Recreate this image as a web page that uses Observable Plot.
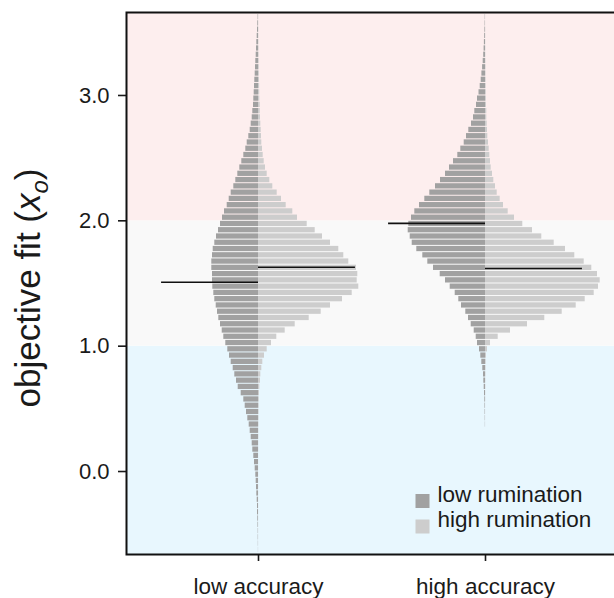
<!DOCTYPE html>
<html><head><meta charset="utf-8">
<script src="https://cdn.jsdelivr.net/npm/d3@7"></script>
<script src="https://cdn.jsdelivr.net/npm/@observablehq/plot@0.6"></script>
<style>
html,body{margin:0;padding:0;background:#fff;overflow:hidden;}
#chart{position:relative;width:614px;height:598px;overflow:hidden;}
#chart svg{max-width:none !important;}
</style></head><body><div id="chart"></div>
<script>
// ---------------- data ----------------
const categories = ["low accuracy", "high accuracy"];
const groups = ["low rumination", "high rumination"];
const yTicks = [0, 1, 2, 3];
const binWidth = 0.05;
const binLower = [
 -0.65,-0.60,-0.55,-0.50,-0.45,-0.40,-0.35,-0.30,-0.25,-0.20,
 -0.15,-0.10,-0.05, 0.00, 0.05, 0.10, 0.15, 0.20, 0.25, 0.30,
  0.35, 0.40, 0.45, 0.50, 0.55, 0.60, 0.65, 0.70, 0.75, 0.80,
  0.85, 0.90, 0.95, 1.00, 1.05, 1.10, 1.15, 1.20, 1.25, 1.30,
  1.35, 1.40, 1.45, 1.50, 1.55, 1.60, 1.65, 1.70, 1.75, 1.80,
  1.85, 1.90, 1.95, 2.00, 2.05, 2.10, 2.15, 2.20, 2.25, 2.30,
  2.35, 2.40, 2.45, 2.50, 2.55, 2.60, 2.65, 2.70, 2.75, 2.80,
  2.85, 2.90, 2.95, 3.00, 3.05, 3.10, 3.15, 3.20, 3.25, 3.30,
  3.35, 3.40, 3.45, 3.50, 3.55, 3.60
];
// bin frequencies (relative), aligned with binLower
const lowAccLowRum = [
  0.1, 0.2, 0.3, 0.3, 0.5, 0.7, 1.0, 1.0, 1.3, 1.7,
  2.0, 2.3, 2.7, 3.3, 4.0, 4.7, 5.7, 6.3, 7.3, 8.3,
  9.3,10.7,12.0,13.3,14.7,17.3,20.3,22.0,23.7,25.3,
 27.3,29.0,30.7,32.7,34.7,36.3,38.0,39.7,41.0,42.3,
 43.7,44.7,45.7,46.0,46.0,46.7,46.7,46.0,45.3,43.7,
 42.0,40.0,38.0,36.0,34.0,31.3,29.3,27.3,24.7,22.7,
 20.7,18.7,16.7,14.7,12.7,11.3, 9.7, 8.3, 7.3, 6.3,
  5.7, 5.0, 4.7, 4.3, 4.0, 3.7, 3.3, 3.0, 2.7, 2.3,
  2.0, 1.7, 1.3, 1.0, 0.7, 0.4
];
const lowAccHighRum = [
  0.1, 0.1, 0.1, 0.1, 0.1, 0.1, 0.1, 0.1, 0.1, 0.1,
  0.1, 0.1, 0.1, 0.1, 0.1, 0.1, 0.2, 0.2, 0.3, 0.3,
  0.4, 0.5, 0.6, 0.7, 0.8, 1.0, 1.3, 2.0, 2.3, 3.3,
  4.3, 6.0, 8.7,13.0,18.3,26.7,36.7,50.7,62.7,72.0,
 84.0,93.7,100.3,98.7,99.3,98.0,90.3,85.3,80.3,72.0,
 64.0,56.7,48.7,39.0,34.3,27.7,23.0,18.7,14.3,11.3,
  8.7, 7.0, 5.7, 4.7, 4.0, 3.3, 3.0, 2.7, 2.3, 2.0,
  1.7, 1.7, 1.3, 1.2, 1.1, 1.0, 0.9, 0.8, 0.7, 0.6,
  0.5, 0.4, 0.3, 0.3, 0.2, 0.2
];
const highAccLowRum = [
  0, 0, 0, 0, 0, 0, 0, 0, 0, 0,
  0, 0, 0, 0, 0, 0, 0, 0, 0, 0,
  0.2, 0.3, 0.4, 0.5, 0.7, 1.0, 1.3, 1.7, 2.0, 2.7,
  3.7, 4.7, 6.0, 8.0, 9.3,11.3,14.3,17.0,19.7,24.0,
 26.7,30.3,35.3,40.0,45.3,52.0,57.7,62.7,68.7,73.3,
 75.3,77.3,76.7,74.0,70.7,66.0,60.7,55.7,50.0,45.0,
 40.0,36.0,32.0,27.7,24.7,21.3,19.0,16.7,14.0,12.0,
 10.7, 9.0, 8.0, 6.5, 5.3, 4.3, 3.6, 2.9, 2.3, 1.8,
  1.4, 1.1, 0.8, 0.6, 0.4, 0.3
];
const highAccHighRum = [
  0, 0, 0, 0, 0, 0, 0, 0, 0, 0,
  0, 0, 0, 0, 0, 0, 0, 0, 0, 0,
  0.1, 0.1, 0.1, 0.1, 0.2, 0.2, 0.3, 0.3, 0.4, 0.5,
  0.7, 1.0, 2.0, 5.0,12.7,25.0,42.0,59.3,76.7,90.7,
 99.7,108.7,113.0,114.7,112.0,106.3,98.7,89.3,80.0,68.7,
 56.3,47.0,37.3,29.0,22.7,18.0,14.7,11.7,10.0, 8.3,
  7.0, 5.7, 5.0, 4.3, 3.7, 3.0, 2.3, 2.0, 1.7, 1.3,
  1.3, 1.0, 0.9, 0.8, 0.7, 0.6, 0.5, 0.5, 0.4, 0.3,
  0.3, 0.2, 0.2, 0.2, 0.1, 0.1
];
// means: [low rumination, high rumination] per category
const meansLowAcc = [1.51, 1.63];
const meansHighAcc = [1.98, 1.62];
// background zones
const zoneEdges = [1.0, 2.0];

// ---------------- styling / layout ----------------
const darkFill = "#a1a1a1", lightFill = "#cdcdcd";
const zoneFills = ["#e8f7fe", "#f9f9f9", "#fdeeee"];
const yMin = -0.662, yMax = 3.662;
const widthPerFreq = 1 / 227;   // category units per frequency unit
const meanLen = 0.427;          // mean marker length in category units
const font = "'Liberation Sans', Arial, Helvetica, sans-serif";

const dists = [
  {cat: 0, side: -1, values: lowAccLowRum, fill: darkFill},
  {cat: 0, side: 1, values: lowAccHighRum, fill: lightFill},
  {cat: 1, side: -1, values: highAccLowRum, fill: darkFill},
  {cat: 1, side: 1, values: highAccHighRum, fill: lightFill}
];
const rects = dists.flatMap(d => binLower.map((b, i) => {
  const w = d.values[i] * widthPerFreq * d.side;
  return {y1: b, y2: b + binWidth, x1: Math.min(d.cat, d.cat + w), x2: Math.max(d.cat, d.cat + w), fill: d.fill, v: d.values[i]};
}).filter(r => r.v > 0));

const meanRows = [
  {cat: 0, side: -1, y: meansLowAcc[0]}, {cat: 0, side: 1, y: meansLowAcc[1]},
  {cat: 1, side: -1, y: meansHighAcc[0]}, {cat: 1, side: 1, y: meansHighAcc[1]}
].map(m => ({y: m.y, x1: Math.min(m.cat, m.cat + m.side * meanLen), x2: Math.max(m.cat, m.cat + m.side * meanLen)}));

const zones = [
  {y1: yMin, y2: zoneEdges[0], fill: zoneFills[0]},
  {y1: zoneEdges[0], y2: zoneEdges[1], fill: zoneFills[1]},
  {y1: zoneEdges[1], y2: yMax, fill: zoneFills[2]}
];

const legendRows = [
  {label: groups[0], fill: darkFill, dy: -53.5},
  {label: groups[1], fill: lightFill, dy: -28}
];

const chart = Plot.plot({
  width: 620, height: 598,
  marginLeft: 126, marginRight: 4, marginTop: 12, marginBottom: 44,
  x: {domain: [-0.5815, 1.5771]},
  y: {domain: [yMin, yMax]},
  style: {fontFamily: font, background: "white", color: "#1a1a1a", maxWidth: "none"},
  marks: [
    Plot.rect(zones, {y1: "y1", y2: "y2", fill: "fill"}),
    Plot.rect(rects, {x1: "x1", x2: "x2", y1: "y1", y2: "y2", fill: "fill", insetTop: 0.5, insetBottom: 0.5}),
    Plot.ruleY(meanRows, {y: "y", x1: "x1", x2: "x2", stroke: "#111", strokeWidth: 1.6}),
    ...legendRows.map(r => Plot.dot([r], {frameAnchor: "bottom-left", dx: 296, dy: r.dy, symbol: "square", r: 7.9, fill: "fill"})),
    ...legendRows.map(r => Plot.text([r], {frameAnchor: "bottom-left", dx: 311, dy: r.dy + 0.5, text: "label", textAnchor: "start", fontSize: 22.5, fill: "#1a1a1a"})),
    Plot.axisY({ticks: yTicks, tickFormat: d3.format(".1f"), tickSize: 8, tickPadding: 9, fontSize: 22, label: null, strokeWidth: 1.6}),
    Plot.axisX({ticks: [0, 1], tickFormat: i => categories[i], tickSize: 7, tickPadding: 17, fontSize: 22.5, label: null, strokeWidth: 1.6}),
    Plot.frame({stroke: "#111", strokeWidth: 2})
  ]
});
chart.style.maxWidth = "none";
document.getElementById("chart").appendChild(chart);

// y-axis title with subscript
const svg = d3.select(chart);
const t = svg.append("text")
  .attr("transform", "translate(40,288) rotate(-90)")
  .attr("text-anchor", "middle")
  .attr("font-family", font)
  .attr("font-size", 35)
  .attr("fill", "#1a1a1a");
t.append("tspan").text("objective fit (");
t.append("tspan").attr("font-style", "italic").text("x");
t.append("tspan").attr("font-style", "italic").attr("font-size", 24).attr("dy", 8).text("o");
t.append("tspan").attr("dy", -8).text(")");
</script>
</body></html>
